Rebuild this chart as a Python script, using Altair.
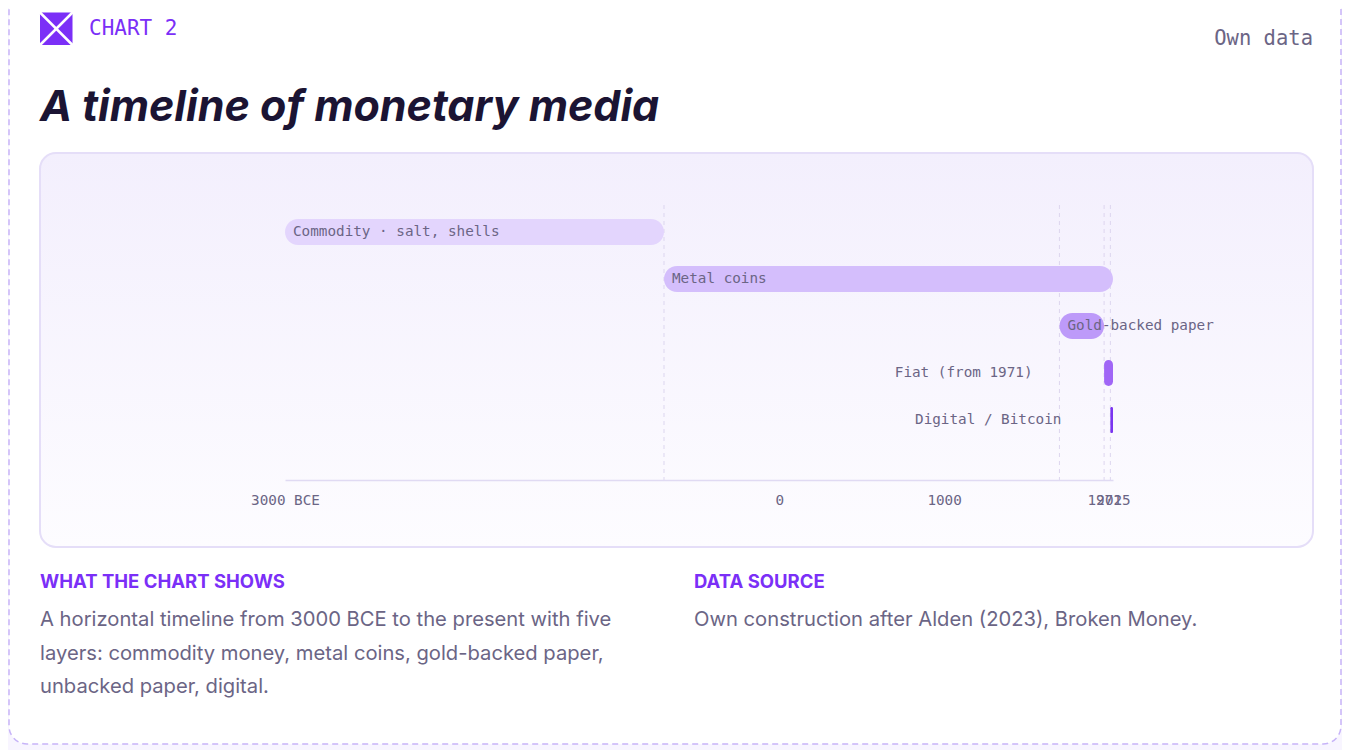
import altair as alt
import pandas as pd

# ---- data ----
layers = ["Commodity · salt, shells", "Metal coins", "Gold-backed paper",
          "Fiat (from 1971)", "Digital / Bitcoin"]
starts = [-3000, -700, 1700, 1971, 2009]
ends = [-700, 2025, 1971, 2025, 2025]
tick_values = [-3000, 0, 1000, 1971, 2025]
tick_labels = ["3000 BCE", "0", "1000", "1971", "2025"]

df = pd.DataFrame({"layer": layers, "start": starts, "end": ends})
rules_df = pd.DataFrame({"year": starts[1:]})

# ---- styles ----
PURPLE = "#7b2ff7"
GRAY = "#6b6585"
MONO = "DejaVu Sans Mono"
SANS = "Inter"
bar_colors = ["#e3d5fd", "#d4befc", "#bd9af9", "#a066f6", "#7a34f0"]

W, H = 828, 275
PAD = {"left": 277, "top": 197, "right": 1334 - 828 - 277, "bottom": 742 - 275 - 197}

label_map = "{" + ",".join(f"'{v}':'{l}'" for v, l in zip(tick_values, tick_labels)) + "}"

one = pd.DataFrame({"k": [0]})

xscale = alt.Scale(domain=[-3000, 2025], nice=False, zero=False)
yscale = alt.Scale(domain=layers, paddingInner=0.447, paddingOuter=0.649, align=0.23)
xaxis = alt.Axis(values=tick_values, labelExpr=f"{label_map}[''+datum.value]",
                 ticks=False, grid=False, domainColor="#e0daf3", domainWidth=1.5,
                 labelFont=MONO, labelFontSize=14.3, labelColor=GRAY, title=None,
                 labelPadding=13, labelOverlap=False, labelFlush=False, zindex=1)

# decorations (plot-relative pixel positions)
outer = alt.Chart(one).mark_rect(
    fill="white", stroke="#c7b4f8", strokeWidth=1.5, strokeDash=[6, 4], cornerRadius=18
).encode(x=alt.value(-276), x2=alt.value(1056), y=alt.value(-240), y2=alt.value(539))

inner = alt.Chart(one).mark_rect(
    fill=alt.LinearGradient(
        gradient="linear",
        stops=[alt.GradientStop(color="#f3effd", offset=0),
               alt.GradientStop(color="#fdfcff", offset=1)],
        x1=0, x2=0, y1=0, y2=1),
    stroke="#e5def8", strokeWidth=2, cornerRadius=16
).encode(x=alt.value(-245), x2=alt.value(1028), y=alt.value(-52), y2=alt.value(342))

logo = alt.Chart(one).mark_rect(fill=PURPLE, cornerRadius=2).encode(
    x=alt.value(-245), x2=alt.value(-212.5), y=alt.value(-192.5), y2=alt.value(-160))
diag1 = alt.Chart(one).mark_rule(color="white", strokeWidth=2.5).encode(
    x=alt.value(-245), y=alt.value(-192.5), x2=alt.value(-212.5), y2=alt.value(-160))
diag2 = alt.Chart(one).mark_rule(color="white", strokeWidth=2.5).encode(
    x=alt.value(-212.5), y=alt.value(-192.5), x2=alt.value(-245), y2=alt.value(-160))


def txt(text, x, y, size, color, font, weight="normal", style="normal",
        align="left", baseline="middle"):
    return alt.Chart(one).mark_text(
        text=text, font=font, fontSize=size, color=color, fontWeight=weight,
        fontStyle=style, align=align, baseline=baseline
    ).encode(x=alt.value(x), y=alt.value(y))


texts = [
    txt("CHART 2", -196, -176, 21, PURPLE, MONO),
    txt("Own data", 1028, -166, 20.5, GRAY, MONO, align="right"),
    txt("A timeline of monetary media", -245, -84, 43, "#1b1433", SANS,
        weight="bold", style="italic", baseline="alphabetic"),
    txt("WHAT THE CHART SHOWS", -245, 377, 18.5, PURPLE, SANS, weight="bold"),
    txt("A horizontal timeline from 3000 BCE to the present with five", -245, 421, 20.2, GRAY, SANS, baseline="alphabetic"),
    txt("layers: commodity money, metal coins, gold-backed paper,", -245, 454.5, 20.2, GRAY, SANS, baseline="alphabetic"),
    txt("unbacked paper, digital.", -245, 488, 20.2, GRAY, SANS, baseline="alphabetic"),
    txt("DATA SOURCE", 409, 377, 18.5, PURPLE, SANS, weight="bold"),
    txt("Own construction after Alden (2023), Broken Money.", 409, 421, 20.2, GRAY, SANS, baseline="alphabetic"),
]

# timeline
rules = alt.Chart(rules_df).mark_rule(color="#ddd6ef", strokeWidth=1, strokeDash=[4, 4]).encode(
    x=alt.X("year:Q", scale=xscale, axis=xaxis), y=alt.value(0), y2=alt.value(H))

bars = alt.Chart(df).mark_bar(cornerRadius=13).encode(
    x=alt.X("start:Q", scale=xscale, axis=xaxis),
    x2="end:Q",
    y=alt.Y("layer:N", scale=yscale, sort=layers, axis=None),
    color=alt.Color("layer:N", scale=alt.Scale(domain=layers, range=bar_colors), legend=None),
)

lab_kw = dict(font=MONO, fontSize=14.3, color=GRAY, baseline="middle")
lab_enc = dict(x=alt.X("start:Q", scale=xscale, axis=xaxis),
               y=alt.Y("layer:N", scale=yscale, sort=layers, axis=None), text="layer:N")
inside = alt.Chart(df).transform_filter(
    alt.FieldOneOfPredicate(field="layer", oneOf=layers[:3])
).mark_text(align="left", dx=8, **lab_kw).encode(**lab_enc)
fiat_lab = alt.Chart(df).transform_filter(
    alt.FieldEqualPredicate(field="layer", equal=layers[3])
).mark_text(align="right", dx=-71.6, **lab_kw).encode(**lab_enc)
dig_lab = alt.Chart(df).transform_filter(
    alt.FieldEqualPredicate(field="layer", equal=layers[4])
).mark_text(align="right", dx=-49, **lab_kw).encode(**lab_enc)

chart = alt.layer(
    outer, inner, logo, diag1, diag2, *texts, rules, bars, inside, fiat_lab, dig_lab
).properties(
    width=W, height=H, padding=PAD, autosize=alt.AutoSizeParams(type="none"),
    background="#f8f5ff"
).configure_view(stroke=None)

chart.save("out.html", embed_options={"renderer": "svg", "actions": False})
